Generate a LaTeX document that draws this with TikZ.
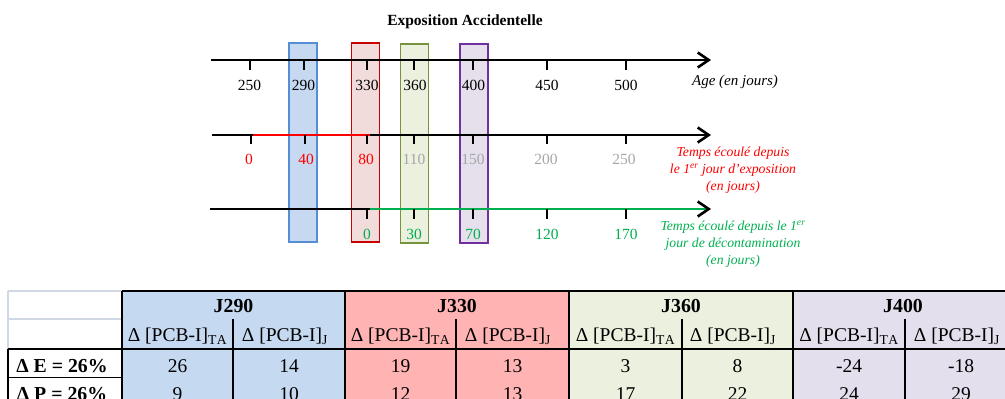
\documentclass[tikz,border=0pt]{standalone}
\usepackage{fontspec}
\setmainfont{Liberation Serif}
\usetikzlibrary{arrows.meta}
\definecolor{bluefill}{RGB}{198,217,241}
\definecolor{blueline}{RGB}{85,142,213}
\definecolor{pinkfill}{RGB}{242,220,219}
\definecolor{redline}{RGB}{200,0,0}
\definecolor{greenfill}{RGB}{235,241,222}
\definecolor{greenline}{RGB}{119,147,60}
\definecolor{purplefill}{RGB}{229,224,236}
\definecolor{purpleline}{RGB}{112,48,160}
\definecolor{txtred}{RGB}{255,0,0}
\definecolor{txtgray}{RGB}{166,166,166}
\definecolor{txtgreen}{RGB}{0,176,80}
\definecolor{tblue}{RGB}{197,217,241}
\definecolor{tpink}{RGB}{255,179,179}
\definecolor{tgreen}{RGB}{235,241,222}
\definecolor{tpurple}{RGB}{228,223,236}
\definecolor{gridgray}{RGB}{208,215,229}
\begin{document}
\begin{tikzpicture}[x=1pt,y=-1pt,
  axisline/.style={line width=2.6pt},
  axisarrow/.style={line width=2.6pt,-{Straight Barb[length=11pt,width=15pt,color=black]}},
  tickline/.style={line width=2pt},
  lab/.style={font=\fontsize{15.5}{18}\selectfont, inner sep=0pt},
  colbox/.style={line width=1.5pt, minimum width=28pt, minimum height=199pt, inner sep=0pt},
  note/.style={align=center, inner sep=0pt, font=\itshape\fontsize{13.7}{17}\selectfont},
  tbl/.style={font=\fontsize{19.5}{22}\selectfont, inner sep=0pt, anchor=base},
  tblb/.style={tbl, font=\bfseries\fontsize{19.8}{22}\selectfont},
  gridl/.style={gridgray, line width=1.2pt},
  blackl/.style={black, line width=1.5pt}
]
\useasboundingbox (0,0) rectangle (1005,399);

% title
\node[font=\bfseries\fontsize{15.5}{18}\selectfont, inner sep=0pt] (title) at (465,22) {Exposition Accidentelle};

% coloured columns
\node[colbox, draw=blueline, fill=bluefill] (cb) at (303,142.5) {};
\node[colbox, draw=redline, fill=pinkfill] (cr) at (365.5,142.5) {};
\node[colbox, draw=greenline, fill=greenfill] (cg) at (414.5,143.5) {};
\node[colbox, draw=purpleline, fill=purplefill] (cp) at (474,143.5) {};

% axis 1 : age
\coordinate (a1s) at (211,60);
\coordinate (a1e) at (711,60);
\draw[axisarrow] (a1s) -- (a1e);
\foreach \x [count=\i] in {250,304,367,414,473,547,626} {
  \coordinate (ta\i) at (\x,60);
  \coordinate (ba\i) at (\x,70);
  \draw[tickline] (ta\i) -- (ba\i);
}
\foreach \x/\t [count=\i] in {249.5/250,303.5/290,367/330,415/360,473.5/400,547/450,626/500} {
  \node[lab] (la\i) at (\x,85) {\t};
}
\node[lab, font=\itshape\fontsize{15}{18}\selectfont] (agetxt) at (735,82) {Age (en jours)};

% axis 2 : exposure
\coordinate (a2s) at (212,135);
\coordinate (a2e) at (711,135);
\draw[axisarrow] (a2s) -- (a2e);
\coordinate (r1) at (253,135);
\coordinate (r2) at (370,135);
\draw[axisline, txtred] (r1) -- (r2);
\foreach \x [count=\i] in {251,305,367,414,473,547,626} {
  \coordinate (tb\i) at (\x,135);
  \coordinate (bb\i) at (\x,144);
  \draw[tickline] (tb\i) -- (bb\i);
}
\foreach \x/\t/\c [count=\i] in {249/0/txtred,306/40/txtred,366/80/txtred,414/110/txtgray,473/150/txtgray,546/200/txtgray,624/250/txtgray} {
  \node[lab, text=\c] (lb\i) at (\x,159.5) {\t};
}
\node[note, text=txtred] (redtxt) at (733,170) {Temps écoulé depuis\\le 1\textsuperscript{er} jour d’exposition\\(en jours)};

% axis 3 : decontamination
\coordinate (a3s) at (210,209);
\coordinate (g1) at (370,209);
\coordinate (a3e) at (711,209);
\draw[axisline] (a3s) -- (g1);
\draw[axisarrow, txtgreen] (g1) -- (a3e);
\foreach \x [count=\i] in {367,414,473,547,626} {
  \coordinate (tc\i) at (\x,209);
  \coordinate (bc\i) at (\x,219);
  \draw[tickline] (tc\i) -- (bc\i);
}
\foreach \x/\t [count=\i] in {367/0,414/30,473/70,547/120,626/170} {
  \node[lab, text=txtgreen] (lc\i) at (\x,234.5) {\t};
}
\node[note, text=txtgreen] (greentxt) at (733,244) {Temps écoulé depuis le 1\textsuperscript{er}\\jour de décontamination\\(en jours)};

% table
\begin{scope}
\clip (0,0) rectangle (1005,399);
\fill[tblue] (122,291) rectangle (345,420);
\fill[tpink] (345,291) rectangle (569,420);
\fill[tgreen] (569,291) rectangle (793,420);
\fill[tpurple] (793,291) rectangle (1030,420);
\draw[gridl] (8,291) -- (122,291);
\draw[gridl] (8,319) -- (122,319);
\draw[gridl] (8,291) -- (8,349);
\draw[black, line width=1pt] (8,377) -- (122,377);
\draw[blackl] (122,291) -- (1030,291);
\draw[blackl] (8,349) -- (1030,349);
\draw[blackl] (8,349) -- (8,420);
\foreach \x in {122,345,569,793} { \draw[blackl] (\x,291) -- (\x,420); }
\foreach \x in {233,456,682,905} { \draw[blackl] (\x,319) -- (\x,420); }

\foreach \x/\t [count=\i] in {233.5/J290,457/J330,681/J360,903/J400} {
  \node[tblb] (h\i) at (\x,312) {\t};
}
\foreach \x [count=\i] in {177.5,400.5,625.5,849} {
  \node[tbl] (sa\i) at (\x,341) {Δ [PCB-I]\textsubscript{T\kern0.5pt A}};
}
\foreach \x [count=\i] in {285,508,733,957} {
  \node[tbl] (sj\i) at (\x,341) {Δ [PCB-I]\textsubscript{J}};
}
\node[tblb] (re) at (62,372) {Δ E = 26\%};
\node[tblb] (rp) at (62,400) {Δ P = 26\%};
\foreach \x/\v [count=\i] in {177.5/26,289/14,400.5/19,512.5/13,625.5/3,737.5/8,849/-24,961/-18} {
  \node[tbl] (ve\i) at (\x,372) {\v};
}
\foreach \x/\v [count=\i] in {177.5/9,289/10,400.5/12,512.5/13,625.5/17,737.5/22,849/24,961/29} {
  \node[tbl] (vp\i) at (\x,400) {\v};
}
\end{scope}
\end{tikzpicture}
\end{document}
